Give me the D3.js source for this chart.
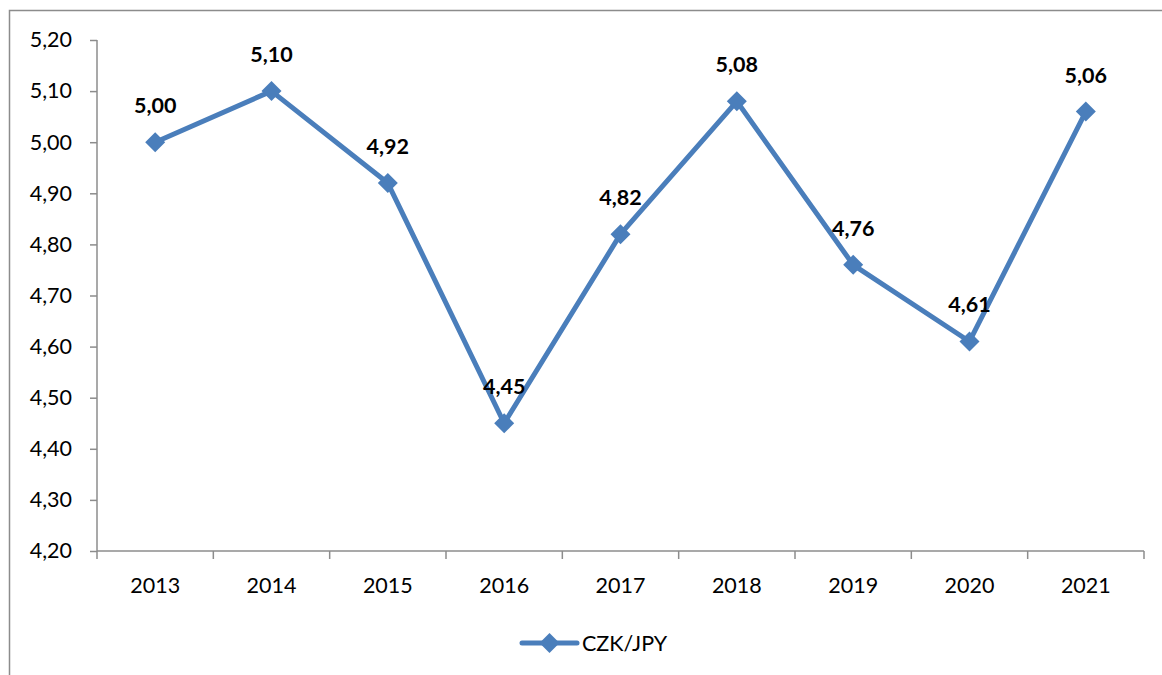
<!DOCTYPE html>
<html>
<head>
<meta charset="utf-8">
<script src="https://cdn.jsdelivr.net/npm/d3@7"></script>
<style>
  body { margin: 0; background: #fff; }
  svg { font-family: Lato, "Open Sans", sans-serif; }
</style>
</head>
<body>
<svg width="1162" height="675"></svg>
<script>
const svg = d3.select('svg');

// data
const years = ['2013', '2014', '2015', '2016', '2017', '2018', '2019', '2020', '2021'];
const rates = [5.00, 5.10, 4.92, 4.45, 4.82, 5.08, 4.76, 4.61, 5.06];
const yTicks = [4.20, 4.30, 4.40, 4.50, 4.60, 4.70, 4.80, 4.90, 5.00, 5.10, 5.20];
const seriesName = 'CZK/JPY';

const lineColor = '#4a7ebb';
const axisColor = '#8c8c8c';
const fmt = v => v.toFixed(2).replace('.', ',');

const margin = { top: 40, left: 97, right: 18, bottom: 124 };
const width = 1162, height = 675;

// chart frame
svg.append('rect')
    .attr('x', 9.5).attr('y', 10.5)
    .attr('width', 1200).attr('height', 700)
    .attr('fill', 'none')
    .attr('stroke', axisColor)
    .attr('stroke-width', 1.5);

const x = d3.scaleBand()
    .domain(years)
    .range([margin.left, width - margin.right]);

const y = d3.scaleLinear()
    .domain([4.20, 5.20])
    .range([height - margin.bottom, margin.top]);

// y axis
const yAxis = svg.append('g')
    .attr('transform', `translate(${margin.left},0)`)
    .call(d3.axisLeft(y).tickValues(yTicks).tickFormat(fmt).tickSize(7).tickPadding(18));
yAxis.selectAll('path, line').attr('stroke', axisColor).attr('stroke-width', 1.5);
yAxis.select('.domain').attr('d', `M0,${y(5.2)}V${y(4.2)}`);
yAxis.selectAll('text').attr('font-size', 21.5).attr('fill', '#000').attr('font-family', 'Lato');

// x axis with ticks between categories
const xAxis = svg.append('g')
    .attr('transform', `translate(0,${y(4.2)})`);
xAxis.append('line')
    .attr('x1', x.range()[0]).attr('x2', x.range()[1])
    .attr('stroke', axisColor).attr('stroke-width', 1.5);
const bounds = years.map(d => x(d)).concat([x.range()[1]]);
xAxis.selectAll('.tick')
    .data(bounds)
    .join('line')
    .attr('x1', d => d).attr('x2', d => d)
    .attr('y1', 0).attr('y2', 8)
    .attr('stroke', axisColor).attr('stroke-width', 1.5);
xAxis.selectAll('.lbl')
    .data(years)
    .join('text')
    .attr('x', d => x(d) + x.bandwidth() / 2)
    .attr('y', 42)
    .attr('text-anchor', 'middle')
    .attr('font-size', 21.5)
    .text(d => d);

const cx = (d, i) => x(years[i]) + x.bandwidth() / 2;

// line
const line = d3.line()
    .x((d, i) => cx(d, i))
    .y(d => y(d));
svg.append('path')
    .datum(rates)
    .attr('d', line)
    .attr('fill', 'none')
    .attr('stroke', lineColor)
    .attr('stroke-width', 5)
    .attr('stroke-linejoin', 'round');

const diamond = d3.symbol().type(d3.symbolSquare).size(200);
svg.selectAll('.marker')
    .data(rates)
    .join('path')
    .attr('d', diamond)
    .attr('transform', (d, i) => `translate(${cx(d, i)},${y(d)}) rotate(45)`)
    .attr('fill', lineColor);

// data labels
svg.selectAll('.dlabel')
    .data(rates)
    .join('text')
    .attr('x', (d, i) => cx(d, i))
    .attr('y', d => y(d) - 29)
    .attr('text-anchor', 'middle')
    .attr('font-size', 21.5)
    .attr('font-weight', 'bold')
    .text(fmt);

// legend
const lg = svg.append('g').attr('transform', 'translate(522,643)');
lg.append('line')
    .attr('x1', 0).attr('x2', 55)
    .attr('stroke', lineColor).attr('stroke-width', 5)
    .attr('stroke-linecap', 'round');
lg.append('path')
    .attr('d', diamond)
    .attr('transform', 'translate(27.5,0) rotate(45)')
    .attr('fill', lineColor);
lg.append('text')
    .attr('x', 60).attr('y', 8)
    .attr('font-size', 21.5)
    .text(seriesName);
</script>
</body>
</html>
